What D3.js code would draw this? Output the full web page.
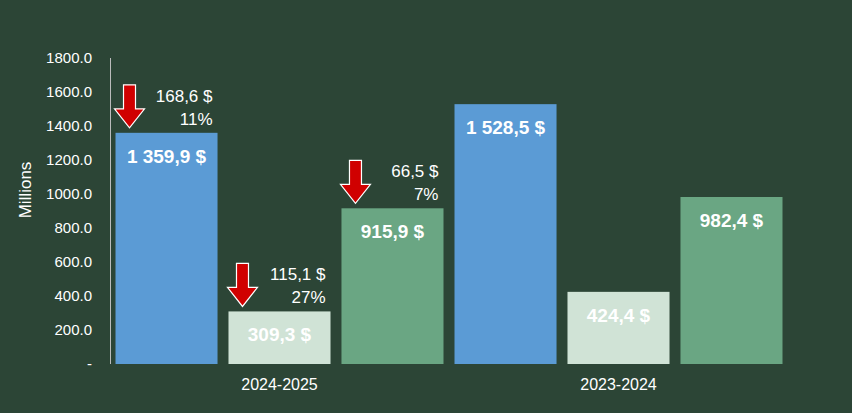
<!DOCTYPE html><html><head><meta charset="utf-8">
<script src="https://cdn.jsdelivr.net/npm/d3@7"></script>
<style>body{margin:0;background:#2c4536}</style></head><body>
<svg id="c" width="852" height="413"></svg>
<script>
const groups=["2024-2025","2023-2024"];
const series=["s1","s2","s3"];
const values={"2024-2025":[1359.9,309.3,915.9],"2023-2024":[1528.5,424.4,982.4]};
const labels={"2024-2025":["1 359,9 $","309,3 $","915,9 $"],"2023-2024":["1 528,5 $","424,4 $","982,4 $"]};
const diffs=["168,6 $","115,1 $","66,5 $"];
const pcts=["11%","27%","7%"];
const colors=["#5b9bd5","#d0e3d6","#6aa683"];
const yTicks=[0,200,400,600,800,1000,1200,1400,1600,1800];
const svg=d3.select("#c");
svg.append("rect").attr("width",852).attr("height",413).attr("fill","#2c4536");
const y=d3.scaleLinear().domain([0,1800]).range([364,58]);
const x0=d3.scaleBand().domain(groups).range([110,788]);
const x1=d3.scaleBand().domain(series).range([0,x0.bandwidth()]).paddingInner(0.097).paddingOuter(0.0487);
const font="Liberation Sans, Arial, sans-serif";
const ax=svg.append("g").attr("transform","translate(110,0)").call(d3.axisLeft(y).tickValues(yTicks).tickSize(0).tickPadding(18).tickFormat(d=>d===0?"-":d.toFixed(1)));
ax.select(".domain").remove();
ax.selectAll("text").attr("fill","#fff").style("font-family",font).style("font-size","15px");
svg.append("line").attr("x1",110.5).attr("x2",110.5).attr("y1",58).attr("y2",364).attr("stroke","#bbb").attr("stroke-width",1);
svg.append("text").attr("transform","translate(31,190) rotate(-90)").attr("text-anchor","middle").attr("fill","#fff").style("font-family",font).style("font-size","17px").text("Millions");
groups.forEach((g,gi)=>{
  const gx=x0(g);
  svg.append("text").attr("x",gx+x0.bandwidth()/2).attr("y",390).attr("text-anchor","middle").attr("fill","#fff").style("font-family",font).style("font-size","16px").text(g);
  series.forEach((s,i)=>{
    const v=values[g][i],bx=gx+x1(s),bw=x1.bandwidth(),top=y(v);
    svg.append("rect").attr("x",bx).attr("y",top).attr("width",bw).attr("height",364-top).attr("fill",colors[i]);
    svg.append("text").attr("x",bx+bw/2).attr("y",top+30).attr("text-anchor","middle").attr("fill","#fff").style("font-family",font).style("font-size","19px").style("font-weight","bold").text(labels[g][i]);
    if(gi===0){
      const cx=bx+14,t=top-48;
      svg.append("path").attr("d",`M${cx-6},${t} L${cx+6},${t} L${cx+6},${t+24} L${cx+15},${t+24} L${cx},${t+43} L${cx-15},${t+24} L${cx-6},${t+24} Z`).attr("fill","#d00000").attr("stroke","#fff").attr("stroke-width",1.2);
      svg.append("text").attr("x",bx+bw-5).attr("y",top-31).attr("text-anchor","end").attr("fill","#fff").style("font-family",font).style("font-size","17px").text(diffs[i]);
      svg.append("text").attr("x",bx+bw-5).attr("y",top-8).attr("text-anchor","end").attr("fill","#fff").style("font-family",font).style("font-size","17px").text(pcts[i]);
    }
  });
});
</script></body></html>
